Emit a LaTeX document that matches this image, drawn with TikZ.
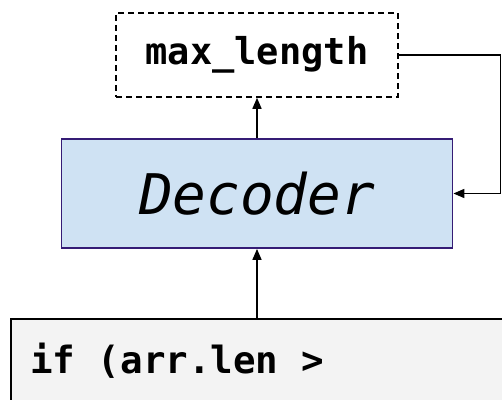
\documentclass[tikz,border=0pt]{standalone}
\usepackage{fontspec}
\setmonofont{DejaVu Sans Mono}
\usetikzlibrary{arrows.meta}
\definecolor{decfill}{HTML}{CFE2F3}
\definecolor{decedge}{HTML}{351C75}
\definecolor{codefill}{HTML}{F3F3F3}
\begin{document}
\begin{tikzpicture}[x=1pt,y=1pt,
  arr/.style={line width=1.6pt,-{Triangle[width=9pt,length=11pt]}},
  lenbox/.style={draw,dashed,dash pattern=on 6pt off 4pt,line width=1.6pt,
    minimum width=282pt,minimum height=84pt,inner sep=0pt,
    font=\ttfamily\bfseries\fontsize{37}{40}\selectfont},
  decbox/.style={draw=decedge,fill=decfill,line width=1.8pt,
    minimum width=391pt,minimum height=109pt,inner sep=0pt,
    font=\ttfamily\itshape\fontsize{56}{60}\selectfont},
  codebox/.style={draw,fill=codefill,line width=1.8pt,inner sep=0pt,
    minimum width=520pt,minimum height=120pt,anchor=north west},
  codetext/.style={inner sep=0pt,anchor=base west,
    font=\ttfamily\bfseries\fontsize{37.5}{40}\selectfont}]
\useasboundingbox (0,0) rectangle (502,399);
\clip (0,0) rectangle (502,399);
% boxes
\node[lenbox] (ml) at (257,344) {max\_length};
\node[decbox] (dec) at (257,205.5) {Decoder};
\node[codebox] (code) at (10,81) {};
\node[codetext] (cond) at (30,26) {if (arr.len >};
% connectors
\coordinate (loop) at (500.5,344);
\draw[arr] (dec.north) -- (ml.south);
\draw[arr] (dec.south |- code.north) -- (dec.south);
\draw[arr] (ml.east) -- (loop) |- (dec.east);
\end{tikzpicture}
\end{document}
